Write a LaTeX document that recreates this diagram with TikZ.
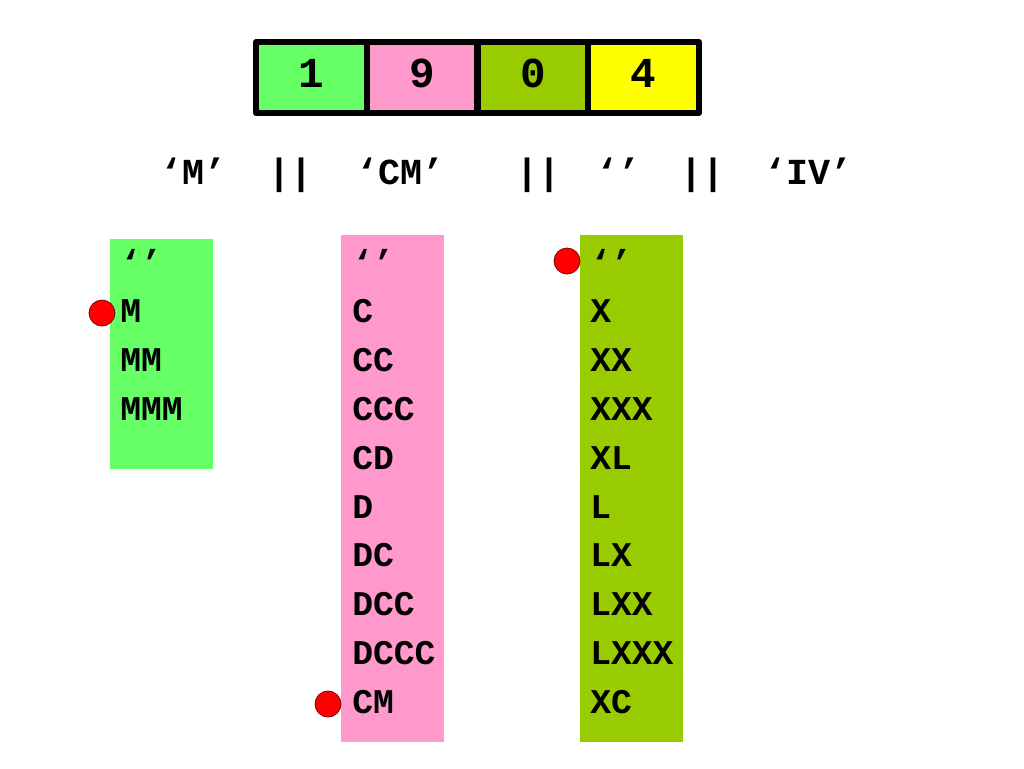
\documentclass[tikz,border=0pt]{standalone}
\usepackage{fontspec}
\setmainfont{Liberation Mono}
\usetikzlibrary{positioning}
\definecolor{mgreen}{HTML}{66FF66}
\definecolor{mpink}{HTML}{FF99CC}
\definecolor{molive}{HTML}{99CC00}
\definecolor{myellow}{HTML}{FFFF00}
\definecolor{mdark}{HTML}{800000}

\begin{document}
\begin{tikzpicture}[x=0.75pt,y=-0.75pt,line join=round,
    digit/.style={draw,line width=4.5pt,minimum width=83.06pt,minimum height=53.25pt,inner sep=0pt,
      text height=21.75pt,text depth=7.5pt,font=\fontsize{32}{32}\selectfont\bfseries},
    concat/.style={anchor=base,inner sep=0pt,font=\fontsize{27.5}{27.5}\selectfont\bfseries},
    roman/.style={anchor=base west,inner sep=0pt,font=\fontsize{26}{26}\selectfont\bfseries},
    pick/.style={circle,fill=red,draw=mdark,line width=0.6pt,minimum size=19.5pt,inner sep=0pt}]
        \useasboundingbox (0,0) rectangle (1024,768);
        % the year, one box per digit
        \node[digit,fill=mgreen] (d1) at (311.4,77.5) {1};
        \node[digit,fill=mpink] (d2) at (422.1,77.5) {9};
        \node[digit,fill=molive] (d3) at (532.9,77.5) {0};
        \node[digit,fill=myellow] (d4) at (643.6,77.5) {4};
        % the result, joined
        \node[concat] (t1) at (194,184) {‘M’};
        \node[concat] (o1) at (291,184) {||};
        \node[concat] (t2) at (401,184) {‘CM’};
        \node[concat] (o2) at (538,184) {||};
        \node[concat] (t3) at (618,184) {‘’};
        \node[concat] (o3) at (702,184) {||};
        \node[concat] (t4) at (808,184) {‘IV’};
        % the tables
        \fill[mgreen] (110,239) rectangle (213,469);
        \fill[mpink] (341,235) rectangle (444,742);
        \fill[molive] (580,235) rectangle (683,742);
        \foreach \s [count=\i from 0] in {‘’,M,MM,MMM}
          \node[roman] (m\i) at (120,{274+48.8*\i}) {\s};
        \foreach \s [count=\i from 0] in {‘’,C,CC,CCC,CD,D,DC,DCC,DCCC,CM}
          \node[roman] (c\i) at (352,{274+48.8*\i}) {\s};
        \foreach \s [count=\i from 0] in {‘’,X,XX,XXX,XL,L,LX,LXX,LXXX,XC}
          \node[roman] (x\i) at (590,{274+48.8*\i}) {\s};
        % chosen entries
        \node[pick] (p1) at (102,313) {};
        \node[pick] (p2) at (328,704) {};
        \node[pick] (p3) at (567,261) {};
\end{tikzpicture}
\end{document}
